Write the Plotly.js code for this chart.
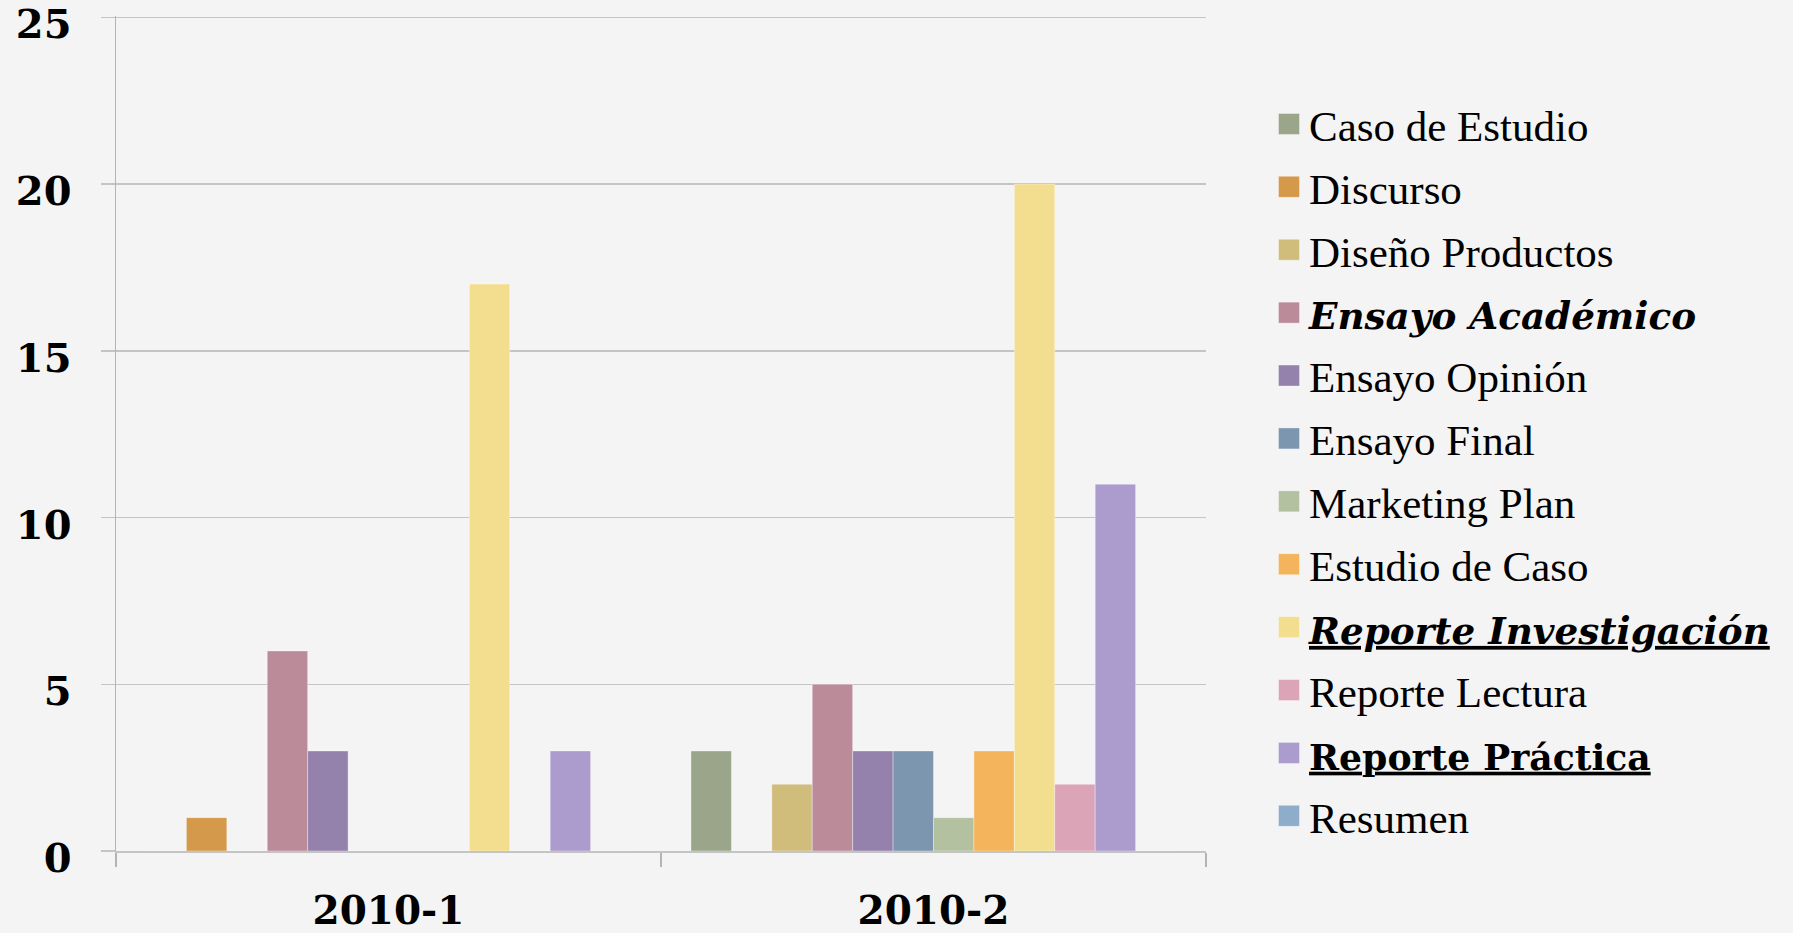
<!DOCTYPE html>
<html>
<head>
<meta charset="utf-8">
<script src="https://cdn.plot.ly/plotly-3.0.1.min.js"></script>
<style>html,body{margin:0;padding:0;background:#f4f4f4;}</style>
</head>
<body>
<div id="chart" style="width:1793px;height:933px;"></div>
<script>
const periods = ["2010-1", "2010-2"];
const seriesNames = [
  "Caso de Estudio", "Discurso", "Diseño Productos", "Ensayo Académico",
  "Ensayo Opinión", "Ensayo Final", "Marketing Plan", "Estudio de Caso",
  "Reporte Investigación", "Reporte Lectura", "Reporte Práctica", "Resumen"
];
const seriesColors = [
  "#9ba589", "#d4994b", "#d0bd7b", "#bc8b99",
  "#9482ad", "#7c96b0", "#b4c1a1", "#f4b45b",
  "#f3dd8f", "#dba4b7", "#ac9bcd", "#8eadcb"
];
const casoEstudio = [0, 3];
const discurso = [1, 0];
const disenoProductos = [0, 2];
const ensayoAcademico = [6, 5];
const ensayoOpinion = [3, 3];
const ensayoFinal = [0, 3];
const marketingPlan = [0, 1];
const estudioCaso = [0, 3];
const reporteInvestigacion = [17, 20];
const reporteLectura = [0, 2];
const reportePractica = [3, 11];
const resumen = [0, 0];
const seriesValues = [casoEstudio, discurso, disenoProductos, ensayoAcademico, ensayoOpinion,
  ensayoFinal, marketingPlan, estudioCaso, reporteInvestigacion, reporteLectura, reportePractica, resumen];
const yTicks = [0, 5, 10, 15, 20, 25];

// legend text emphasis as in the original
const emphasis = {3: "bi", 8: "biu", 10: "bu"};
function legendLabel(name, i) {
  const e = emphasis[i];
  if (!e) return name;
  let t = name;
  if (e.includes("u")) t = "<u>" + t + "</u>";
  if (e.includes("i")) t = "<i>" + t + "</i>";
  t = "<b>" + t + "</b>";
  const fs = e.includes("i") ? 37.3 : 36.2;
  return '<span style="font-family:\'DejaVu Serif\';font-size:' + fs + 'px">' + t + "</span>";
}

const traces = seriesNames.map((n, i) => ({
  type: "bar",
  name: legendLabel(n, i),
  x: periods,
  y: seriesValues[i],
  legendgroup: "g" + i,
  marker: {color: seriesColors[i], line: {width: 1, color: "rgba(255,255,255,0.35)"}}
}));

const layout = {
  width: 1793, height: 933,
  paper_bgcolor: "#f4f4f4", plot_bgcolor: "#f4f4f4",
  margin: {l: 116, r: 587, t: 16, b: 82},
  barmode: "group", bargap: 0.11, bargroupgap: 0,
  showlegend: true,
  legend: {
    x: 1.0578, xanchor: "left", y: 0.912, yanchor: "top",
    font: {family: "Liberation Serif", size: 43, color: "#000"},
    tracegroupgap: 4, bgcolor: "rgba(0,0,0,0)"
  },
  xaxis: {
    type: "category", tickson: "boundaries", ticks: "outside", ticklen: 14,
    tickcolor: "#b4b4b4", tickwidth: 1.5, showline: true, linecolor: "#c4c4c4", linewidth: 2,
    showgrid: false, ticklabelstandoff: 24,
    tickfont: {family: "DejaVu Serif", size: 39, color: "#000", weight: "bold"}
  },
  yaxis: {
    range: [0, 25.04], tickvals: yTicks, ticks: "outside", ticklen: 14, tickcolor: "#c4c4c4", tickwidth: 1.5,
    showgrid: true, gridcolor: "#c4c4c4", gridwidth: 1.5, zeroline: false,
    showline: true, linecolor: "#b4b4b4", linewidth: 1.5,
    ticklabelstandoff: 21, ticklabelshift: 7,
    tickfont: {family: "DejaVu Serif", size: 40, color: "#000", weight: "bold"}
  }
};

Plotly.newPlot("chart", traces, layout, {staticPlot: true}).then(() => {
  document.querySelectorAll(".legend .legendpoints path").forEach(p => {
    p.setAttribute("d", "M10.5,10.5H-10.5V-10.5H10.5Z");
  });
});
</script>
</body>
</html>
